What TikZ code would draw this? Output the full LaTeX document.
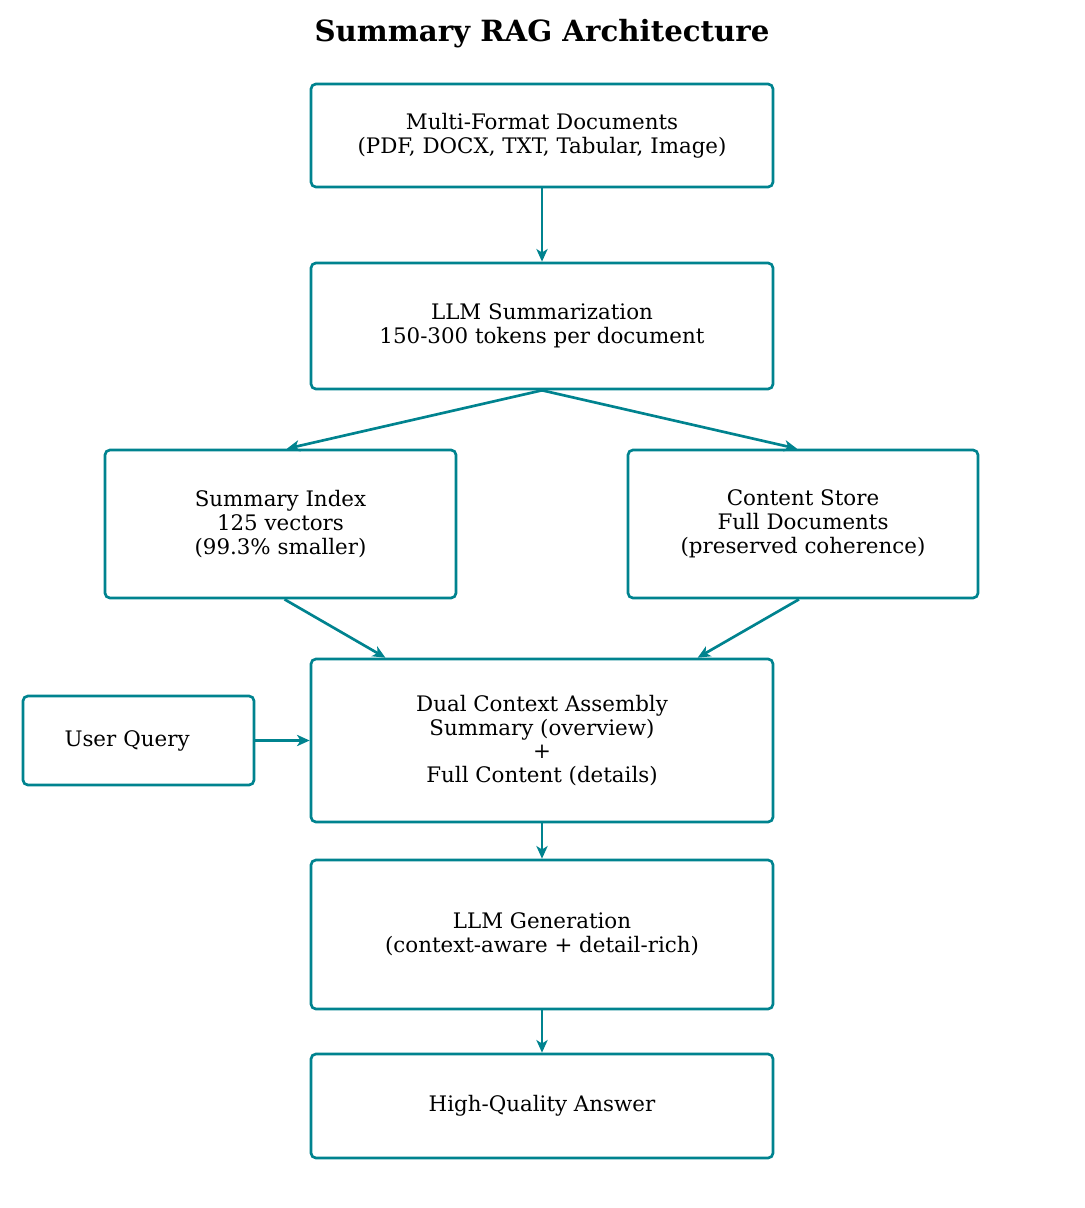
\documentclass[tikz,border=0pt]{standalone}
\usepackage{fontspec}
\setmainfont{DejaVu Serif}
\usetikzlibrary{arrows.meta,calc}
\definecolor{teal}{RGB}{0,131,143}

\begin{document}
\begin{tikzpicture}[
    box/.style={draw=teal, line width=1.9pt, rounded corners=3.5pt, align=center,
      font=\fontsize{15.2}{17}\selectfont, minimum width=11.55cm},
    flow/.style={-{Stealth[length=9pt,width=8pt,inset=2.5pt]}, draw=teal, line width=1.9pt}
  ]
    \useasboundingbox (0,0) rectangle (27.1,-30.2);
    \node (title) at (13.55,-0.85) {\fontsize{20.8}{25}\selectfont\bfseries Summary RAG Architecture};
    \node[box, minimum height=2.575cm] (docs) at (13.55,-3.3875) {Multi-Format Documents\\(PDF, DOCX, TXT, Tabular, Image)};
    \node[box, minimum height=3.15cm] (summ) at (13.55,-8.15) {LLM Summarization\\150-300 tokens per document};
    \node[box, minimum width=8.775cm, minimum height=3.7cm] (index) at (7.0125,-13.1) {Summary Index\\125 vectors\\(99.3\% smaller)};
    \node[box, minimum width=8.75cm, minimum height=3.7cm] (store) at (20.075,-13.1) {Content Store\\Full Documents\\(preserved coherence)};
    \node[box, minimum height=4.075cm] (dual) at (13.55,-18.5125) {Dual Context Assembly\\Summary (overview)\\+\\Full Content (details)};
    \node[box, minimum width=5.775cm, minimum height=2.225cm, text width=5.2cm, align=left] (query) at (3.4625,-18.5125) {\hspace{0.75cm}User Query};
    \node[box, minimum height=3.725cm] (gen) at (13.55,-23.3625) {LLM Generation\\(context-aware + detail-rich)};
    \node[box, minimum height=2.6cm] (answer) at (13.55,-27.65) {High-Quality Answer};

    \draw[flow] (docs) -- (summ);
    \draw[flow] (summ.south) -- ([xshift=0.16cm]index.north);
    \draw[flow] (summ.south) -- ([xshift=-0.15cm]store.north);
    \draw[flow] ([xshift=0.1cm]index.south) -- ($(dual.north west)!0.163!(dual.north east)$);
    \draw[flow] ([xshift=-0.1cm]store.south) -- ($(dual.north west)!0.835!(dual.north east)$);
    \draw[flow] (query) -- (dual);
    \draw[flow] (dual) -- (gen);
    \draw[flow] (gen) -- (answer);
  \end{tikzpicture}
\end{document}
